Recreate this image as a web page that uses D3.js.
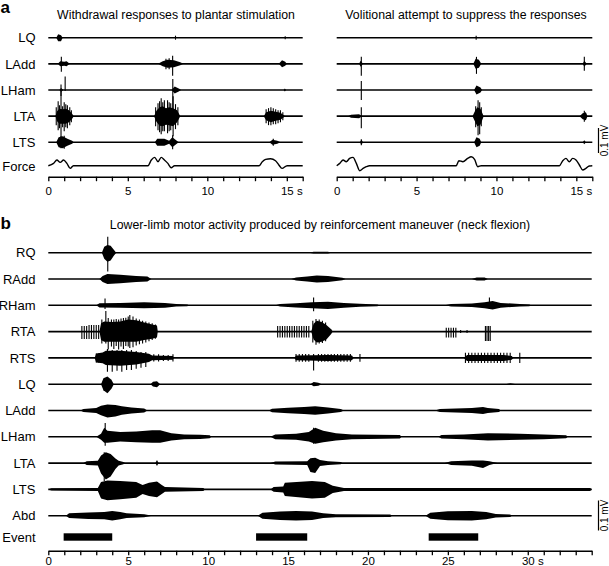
<!DOCTYPE html>
<html>
<head>
<meta charset="utf-8">
<script src="https://cdn.jsdelivr.net/npm/d3@7"></script>
<style>
  body { margin: 0; background: #fff; }
  svg text { font-family: "Liberation Sans", Arial, Helvetica, sans-serif; fill: #000; }
</style>
</head>
<body>
<svg id="chart" width="609" height="566"></svg>
<script>
// ---------------- data (time in s, amplitude in uV) ----------------
var namesA = ["LQ", "LAdd", "LHam", "LTA", "LTS"];
var namesB = ["RQ", "RAdd", "RHam", "RTA", "RTS", "LQ", "LAdd", "LHam", "LTA", "LTS", "Abd"];
var ticksA = [0, 5, 10, 15];
var ticksB = [0, 5, 10, 15, 20, 25, 30];

// bursts: list of envelopes [t, up, down]
var leftEnv = {
  LQ: [[[0.5,0,0],[0.62,14,14],[0.8,10,14],[0.9,0,0]]],
  LAdd: [[[0.6,0,0],[0.75,10,10],[1.0,8,8],[1.15,10,10],[1.35,0,0]],
         [[6.9,0,0],[7.2,10,10],[7.5,16,16],[7.9,14,14],[8.3,6,6],[8.5,0,0]],
         [[14.5,0,0],[14.7,14,14],[14.9,8,8],[15.0,0,0]]],
  LHam: [[[0.7,0,0],[0.8,8,8],[0.95,0,0]],
         [[7.75,0,0],[7.95,14,14],[8.2,6,6],[8.35,0,0]],
         [[14.8,0,0],[14.88,6,6],[14.95,0,0]]],
  LTA: [[[0.45,0,0],[0.55,20,20],[0.7,30,30],[0.9,28,30],[1.1,30,30],[1.3,24,24],[1.5,10,10],[1.6,0,0]],
        [[6.65,0,0],[6.8,22,22],[7.0,36,38],[7.2,40,40],[7.4,32,34],[7.6,36,36],[7.85,32,40],[8.1,24,24],[8.3,0,0]],
        [[13.55,0,0],[13.7,16,16],[14.0,22,24],[14.3,18,18],[14.6,14,14],[14.9,0,0]]],
  LTS: [[[0.5,0,0],[0.65,20,20],[0.9,24,24],[1.2,14,14],[1.5,6,6],[1.6,0,0]],
        [[6.7,0,0],[6.85,14,14],[7.3,14,14],[7.6,6,6],[7.8,20,20],[8.0,10,10],[8.2,0,0]],
        [[13.9,0,0],[14.1,10,10],[14.4,6,6],[14.6,0,0]]]
};
// single spikes [t, up, down]
var leftSpk = {
  LQ: [[8.0,8,8],[14.9,6,6]],
  LAdd: [[0.82,28,32],[7.82,32,48],[7.4,20,22],[7.6,22,22]],
  LHam: [[0.8,22,24],[1.06,54,4],[7.83,44,104]],
  LTA: [[0.5,36,36],[0.62,60,56],[0.7,44,48],[0.8,100,92],[0.9,40,44],[1.0,56,60],[1.1,48,44],[1.2,44,48],[1.35,36,36],[1.45,24,24],
        [6.75,36,40],[6.9,52,56],[7.0,60,64],[7.1,72,72],[7.2,56,60],[7.3,64,60],[7.5,64,68],[7.6,56,60],[7.7,52,56],[7.85,80,80],[8.0,48,52],[8.15,36,36],
        [13.7,28,28],[13.85,32,36],[14.0,36,36],[14.15,32,32],[14.3,28,32],[14.45,24,28],[14.6,24,24],[14.75,16,16]],
  LTS: [[0.8,24,24],[1.0,26,26],[7.82,28,28],[14.15,14,14]]
};
var rightEnv = {
  LQ: [],
  LAdd: [[[1.4,0,0],[1.5,12,12],[1.65,0,0]],
         [[8.55,0,0],[8.7,20,20],[8.9,16,16],[9.05,0,0]],
         [[15.4,0,0],[15.5,12,12],[15.65,0,0]]],
  LHam: [[[8.6,0,0],[8.75,18,18],[9.0,10,10],[9.1,0,0]]],
  LTA: [[[0.7,0,0],[0.9,6,6],[1.4,8,8],[1.6,0,0]],
        [[8.5,0,0],[8.65,20,20],[8.8,36,40],[9.0,30,34],[9.2,0,0]],
        [[15.2,0,0],[15.4,12,12],[15.6,16,16],[15.7,0,0]]],
  LTS: [[[1.45,0,0],[1.55,10,10],[1.65,0,0]],
        [[8.6,0,0],[8.75,20,20],[8.95,14,14],[9.05,0,0]],
        [[15.4,0,0],[15.5,8,8],[15.6,0,0]]]
};
var rightSpk = {
  LQ: [[8.73,8,8]],
  LAdd: [[1.54,28,48],[8.75,28,40],[15.5,28,28]],
  LHam: [[1.54,36,40]],
  LTA: [[1.54,36,48],[8.7,40,44],[8.85,64,76],[8.95,56,72],[9.05,36,40],[15.5,22,22]],
  LTS: [[1.54,12,12]]
};
// force traces [t, value]
var forceLeft = [[0,0],[0.33,2.3],[0.54,5.7],[0.75,3.3],[0.96,5.7],[1.17,2.3],[1.38,-2.7],[1.58,0],
  [6.27,0],[6.48,5.7],[6.69,8.3],[6.9,4],[7.1,8.3],[7.3,5.7],[7.52,2.3],[7.73,-2],[7.94,0],
  [13.25,0],[13.46,4],[13.67,6.3],[13.98,7],[14.29,5],[14.5,0.7],[14.7,-2.7],[15.02,0],[16,0]];
var forceRight = [[0,0],[0.19,2.3],[0.4,5.7],[0.6,4],[0.81,7.3],[1.02,8.3],[1.23,2.3],[1.44,-5],[1.65,-2.7],[1.85,-1],[2.06,0],
  [7.48,0],[7.65,5],[7.9,4],[8.2,7.3],[8.42,9],[8.63,6.3],[8.83,-1],[9.04,0],
  [13.94,0],[14.15,5],[14.35,7.3],[14.56,4],[14.77,7.3],[14.98,5.7],[15.19,0.7],[15.4,-4.3],[15.6,-2.7],[15.81,-0.3],[16,0]];

var bEnv = {
  RQ: [[[3.35,0,0],[3.5,20,20],[3.7,26,30],[3.9,23,26],[4.1,10,10],[4.25,0,0]],
       [[16.3,0,0],[16.6,3,3],[17.5,3,3],[17.7,0,0]]],
  RAdd: [[[3.2,0,0],[3.4,10,10],[3.7,17,17],[4.5,14,14],[5.5,10,10],[6.2,8,8],[6.45,0,0]],
         [[15.2,0,0],[15.5,5,5],[16.2,8,8],[16.8,12,12],[17.5,10,10],[18.4,4,4],[18.6,0,0]],
         [[26.5,0,0],[26.8,5,5],[27.3,5,5],[27.5,0,0]]],
  RHam: [[[3.0,0,0],[3.2,7,7],[4.5,8,8],[6.0,10,10],[7.3,8,8],[8.0,4,4],[8.7,3,3],[8.8,0,0]],
         [[14.2,0,0],[14.5,4,4],[15.5,7,7],[16.5,10,10],[17.5,12,12],[18.5,8,8],[19.5,5,5],[20.6,3,3],[20.7,0,0]],
         [[24.8,0,0],[25.2,4,4],[26.5,6,6],[27.3,10,10],[27.8,14,14],[28.3,8,8],[29.5,4,4],[30.1,3,3],[30.2,0,0]]],
  RTA: [[[3.2,0,0],[3.3,28,28],[3.5,34,34],[4.0,32,34],[4.5,34,34],[5.0,40,34],[5.5,38,34],[6.0,30,28],[6.5,24,24],[6.8,20,20],[6.85,0,0]],
        [[16.45,0,0],[16.6,26,26],[16.8,36,36],[17.1,32,34],[17.4,22,26],[17.7,8,8],[17.8,0,0]]],
  RTS: [[[2.9,0,0],[3.0,15,15],[3.4,18,18],[3.6,24,24],[4.5,24,26],[5.5,20,22],[6.3,14,14],[6.5,8,8],[7.8,6,6],[7.85,0,0]],
        [[15.4,0,0],[15.5,8,8],[17.5,10,10],[19.0,8,8],[19.1,0,0]],
        [[26.0,0,0],[26.2,10,10],[28.5,10,10],[29.0,6,6],[29.1,0,0]]],
  LQ: [[[3.3,0,0],[3.45,20,20],[3.7,26,30],[3.95,15,15],[4.1,0,0]],
       [[6.4,0,0],[6.55,8,8],[6.8,10,10],[7.0,0,0]],
       [[16.4,0,0],[16.6,7,7],[16.9,5,5],[17.1,0,0]],
       [[28.6,0,0],[28.9,3,3],[29.3,0,0]]],
  LAdd: [[[2.0,0,0],[2.2,5,5],[3.0,8,8],[3.3,16,16],[3.7,20,23],[4.2,18,20],[4.6,14,14],[5.2,10,10],[6.0,7,7],[6.2,0,0]],
         [[13.8,0,0],[14.0,6,6],[15.0,9,9],[16.0,12,12],[16.7,14,14],[17.5,10,10],[18.3,5,5],[18.5,0,0]],
         [[24.2,0,0],[24.5,5,5],[25.5,7,7],[26.5,8,8],[27.2,12,12],[27.5,8,8],[28.2,5,5],[28.3,0,0]]],
  LHam: [[[3.0,0,0],[3.3,10,10],[3.5,30,20],[3.7,20,20],[4.5,16,16],[5.5,18,18],[6.5,22,20],[7.0,22,20],[7.7,12,12],[8.5,8,8],[9.5,7,7],[10.1,5,5],[10.2,0,0]],
         [[13.9,0,0],[14.2,8,8],[15.5,10,10],[16.3,16,16],[16.7,30,23],[17.2,20,18],[18.0,12,12],[19.0,8,8],[22.0,6,6],[22.1,0,0]],
         [[24.4,0,0],[24.6,6,6],[26.0,8,8],[27.5,12,12],[29.5,10,10],[31.0,8,8],[32.4,5,5],[32.5,0,0]]],
  LTA: [[[2.2,0,0],[2.4,6,6],[3.1,8,8],[3.3,25,35],[3.6,36,55],[3.9,30,45],[4.2,15,20],[4.4,8,8],[4.7,4,4],[4.8,0,0]],
        [[6.7,0,0],[6.8,10,10],[6.9,0,0]],
        [[13.9,0,0],[14.2,5,5],[16.2,6,6],[16.4,16,30],[16.7,18,33],[17.0,10,10],[17.5,6,6],[18.3,4,4],[18.4,0,0]],
        [[24.8,0,0],[25.2,6,6],[26.5,9,9],[27.2,9,16],[27.6,6,6],[28.1,0,0]]],
  LTS: [[[0.0,0,0],[0.2,4,4],[3.1,5,5],[3.3,25,30],[3.7,30,36],[4.5,28,33],[5.5,25,28],[5.9,15,15],[6.3,22,22],[6.8,26,26],[7.1,15,15],[7.3,8,8],[9.7,5,5],[9.8,0,0]],
        [[13.9,0,0],[14.1,8,8],[14.7,10,10],[14.8,22,22],[16.5,28,30],[17.3,25,28],[17.8,12,12],[18.5,5,5],[33.9,5,5],[34,0,0]]],
  Abd: [[[1.1,0,0],[1.3,8,8],[2.5,11,11],[3.5,12,12],[4.0,16,16],[4.5,12,12],[4.9,8,8],[6.0,5,5],[6.5,0,0]],
        [[13.1,0,0],[13.4,10,10],[14.5,14,14],[15.5,16,16],[16.5,14,14],[17.2,8,8],[18.0,5,5],[21.4,4,4],[21.5,0,0]],
        [[23.6,0,0],[23.9,10,10],[25.0,15,15],[26.5,16,16],[27.4,12,12],[28.0,6,6],[28.9,4,4],[29.0,0,0]]]
};
var bSpk = {
  RQ: [[3.72,53,63]],
  RAdd: [],
  RHam: [[3.55,23,12],[16.6,26,20],[27.6,26,12]],
  RTA: [[2.1,19,25],[2.25,19,25],[2.4,19,25],[2.55,22,25],[2.7,22,25],[2.85,22,25],[3.0,22,25],[3.15,22,25],
        [3.35,40,40],[3.6,69,40],[3.75,45,60],[3.95,40,50],[4.1,40,58],[4.25,42,48],[4.4,40,60],[4.55,44,50],[4.7,45,58],
        [4.85,46,48],[5.0,50,50],[5.1,55,55],[5.3,50,52],[5.5,44,46],[5.7,40,42],[5.9,36,40],[6.1,34,36],[6.3,30,32],[6.5,28,28],[6.7,24,24],
        [14.35,19,20],[14.5,19,20],[14.65,19,20],[14.8,19,20],[14.95,19,20],[15.1,19,20],[15.25,19,20],
        [15.4,19,20],[15.55,19,20],[15.7,19,20],[15.85,19,20],[16.0,19,20],[16.15,19,20],[16.3,19,20],
        [16.55,36,36],[16.75,42,44],[16.95,40,40],[17.15,36,38],[17.35,30,32],
        [24.9,13,20],[25.05,13,20],[25.2,13,20],[25.35,13,20],[25.5,13,20],[25.8,5,5],[26.2,5,5],
        [27.35,19,31],[27.45,19,31],[27.55,19,31],[27.65,19,31]],
  RTS: [[3.0,15,15],[3.15,15,15],[3.3,16,16],[3.7,30,46],[4.0,26,46],[4.3,26,43],[4.6,26,46],[4.9,26,40],
        [5.2,26,40],[5.5,23,36],[5.8,20,33],[6.1,20,30],[6.6,12,12],[6.9,12,12],[7.2,10,10],[7.5,10,10],[7.8,12,12],
        [15.5,13,13],[15.7,13,13],[15.9,13,13],[16.1,13,13],[16.3,13,13],[16.6,13,42],[16.9,13,13],[17.1,13,13],
        [17.3,13,13],[17.5,13,13],[17.7,13,13],[17.9,13,13],[18.1,13,13],[18.3,13,13],[18.5,13,13],[18.7,13,13],
        [18.9,13,13],[19.5,13,13],
        [26.1,17,17],[26.3,17,17],[26.5,17,17],[26.7,17,17],[26.9,17,17],[27.1,17,17],[27.3,17,17],[27.5,17,17],
        [27.7,17,17],[27.9,17,17],[28.1,17,17],[28.3,17,17],[28.5,17,17],[28.7,17,17],[28.9,17,17],[29.5,17,17]],
  LQ: [], LAdd: [],
  LHam: [[3.56,46,30],[16.6,30,23]],
  LTA: [[3.5,36,60]],
  LTS: [], Abd: []
};
var eventBars = [[0.96, 4.0], [13.0, 16.2], [23.8, 26.9]];

// ---------------- layout ----------------
var svg = d3.select("#chart");

var xLeft = d3.scaleLinear().domain([0, 16]).range([48.3, 302.7]);
var xRight = d3.scaleLinear().domain([0, 16]).range([336.7, 592.3]);
var xB = d3.scaleLinear().domain([0, 34]).range([48.3, 591.7]);

var rowA = d3.scalePoint().domain(namesA).range([37.7, 142.3]);
var forceBase = 165.7;
var rowB = d3.scalePoint().domain(namesB).range([252.7, 515.7]);

var ampA = d3.scaleLinear().domain([0, 100]).range([0, 25]);   // 0.1 mV = 25 px
var ampB = d3.scaleLinear().domain([0, 100]).range([0, 30]);   // 0.1 mV = 30 px
var forceY = d3.scaleLinear().domain([0, 10]).range([forceBase, forceBase - 10]);

function drawTrace(g, x, y0, amp, bursts, spikes) {
  g.append("line")
    .attr("x1", x.range()[0]).attr("x2", x.range()[1])
    .attr("y1", y0).attr("y2", y0)
    .attr("stroke", "#000").attr("stroke-width", 1.6);

  var area = d3.area()
    .x(d => x(d[0]))
    .y0(d => y0 + amp(d[2]))
    .y1(d => y0 - amp(d[1]));

  g.selectAll(null).data(bursts).join("path")
    .attr("d", area)
    .attr("fill", "#000");

  g.selectAll(null).data(spikes).join("line")
    .attr("x1", d => x(d[0])).attr("x2", d => x(d[0]))
    .attr("y1", d => y0 - amp(d[1])).attr("y2", d => y0 + amp(d[2]))
    .attr("stroke", "#000").attr("stroke-width", 1.1);
}

function drawAxis(x, y, maxT, labels, pad) {
  var last = labels[labels.length - 1];
  var axis = d3.axisBottom(x)
    .tickValues(d3.range(0, maxT + 1))
    .tickSize(4.5)
    .tickSizeOuter(0)
    .tickPadding(pad)
    .tickFormat(d => labels.includes(d) ? (d === last ? d + " s" : d) : "");

  var g = svg.append("g")
    .attr("transform", `translate(0,${y})`)
    .call(axis);
  g.attr("font-family", null).attr("font-size", null);
  g.select(".domain").attr("stroke-width", 1.4);
  g.selectAll(".tick line").attr("stroke-width", 1.3);
  g.selectAll(".tick text")
    .style("font-size", "11.5px")
    .attr("dx", d => d === last ? "0.39em" : 0);
}

function label(txt, y) {
  svg.append("text")
    .attr("x", 35.5).attr("y", y).attr("dy", "0.36em")
    .attr("text-anchor", "end")
    .style("font-size", "13px")
    .text(txt);
}

// ---------------- panel a ----------------
svg.append("text").attr("x", 0.5).attr("y", 13)
  .style("font-size", "17px").style("font-weight", "bold").text("a");
svg.append("text").attr("x", 176).attr("y", 19).attr("text-anchor", "middle")
  .style("font-size", "12.3px").text("Withdrawal responses to plantar stimulation");
svg.append("text").attr("x", 466).attr("y", 19).attr("text-anchor", "middle")
  .style("font-size", "12.3px").text("Volitional attempt to suppress the responses");

var gA = svg.append("g");
namesA.forEach(function(n) {
  label(n, rowA(n));
  drawTrace(gA, xLeft, rowA(n), ampA, leftEnv[n], leftSpk[n]);
  drawTrace(gA, xRight, rowA(n), ampA, rightEnv[n], rightSpk[n]);
});
label("Force", forceBase + 1);

var forceLine = (x) => d3.line().x(d => x(d[0])).y(d => forceY(d[1])).curve(d3.curveMonotoneX);
gA.append("path").datum(forceLeft).attr("d", forceLine(xLeft))
  .attr("fill", "none").attr("stroke", "#000").attr("stroke-width", 1.4);
gA.append("path").datum(forceRight).attr("d", forceLine(xRight))
  .attr("fill", "none").attr("stroke", "#000").attr("stroke-width", 1.4);

drawAxis(xLeft, 176.7, 16, ticksA, 5.5);
drawAxis(xRight, 176.7, 16, ticksA, 5.5);

// scale bar a
svg.append("line").attr("x1", 598.5).attr("x2", 598.5)
  .attr("y1", 128).attr("y2", 128 + ampA(100))
  .attr("stroke", "#000").attr("stroke-width", 1.2);
svg.append("text").attr("transform", "translate(608,140.5) rotate(-90)")
  .attr("text-anchor", "middle").style("font-size", "10px").text("0.1 mV");

// ---------------- panel b ----------------
svg.append("text").attr("x", 0.5).attr("y", 229)
  .style("font-size", "17px").style("font-weight", "bold").text("b");
svg.append("text").attr("x", 320).attr("y", 229).attr("text-anchor", "middle")
  .style("font-size", "12.3px").text("Lower-limb motor activity produced by reinforcement maneuver (neck flexion)");

var gB = svg.append("g");
namesB.forEach(function(n) {
  label(n, rowB(n));
  drawTrace(gB, xB, rowB(n), ampB, bEnv[n], bSpk[n]);
});

var eventY = 537;
label("Event", eventY);
gB.selectAll(null).data(eventBars).join("rect")
  .attr("x", d => xB(d[0]))
  .attr("width", d => xB(d[1]) - xB(d[0]))
  .attr("y", eventY - 3.7).attr("height", 7.4)
  .attr("fill", "#000");

drawAxis(xB, 550.7, 34, ticksB, 2);

// scale bar b
svg.append("line").attr("x1", 598.5).attr("x2", 598.5)
  .attr("y1", 500.5).attr("y2", 500.5 + ampB(100))
  .attr("stroke", "#000").attr("stroke-width", 1.2);
svg.append("text").attr("transform", "translate(608,515.5) rotate(-90)")
  .attr("text-anchor", "middle").style("font-size", "10px").text("0.1 mV");
</script>
</body>
</html>
